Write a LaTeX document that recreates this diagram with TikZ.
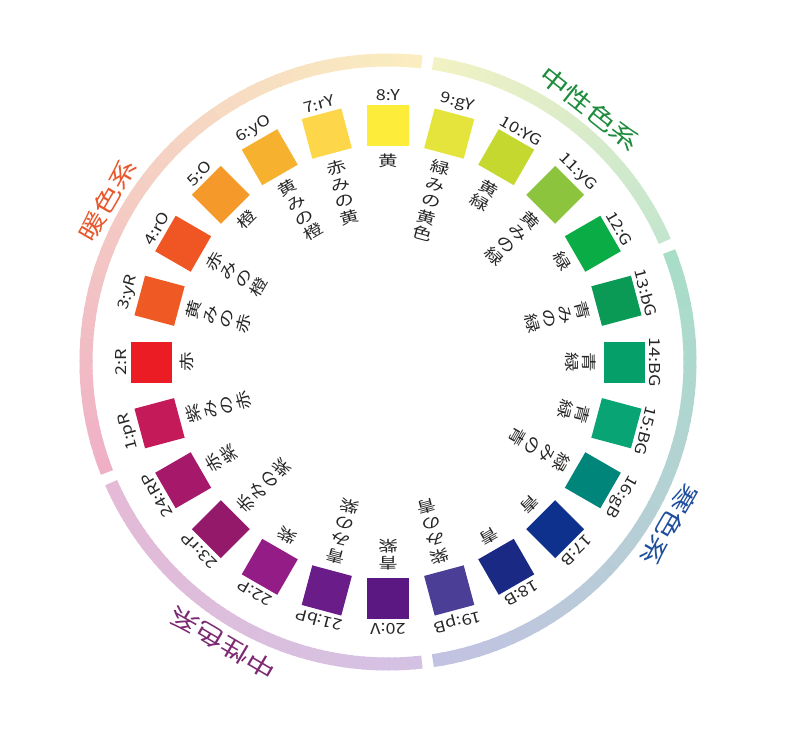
\documentclass[tikz,border=0pt]{standalone}
\usepackage{fontspec}
\setmainfont{Noto Sans CJK JP}
\newfontfamily\jpfont{Noto Sans CJK JP}[FakeStretch=1.3]
\newfontfamily\numfont{Noto Sans CJK JP}[FakeStretch=1.2]

\definecolor{h1}{HTML}{C41A5A}
\definecolor{h2}{HTML}{EC1C24}
\definecolor{h3}{HTML}{EF5A24}
\definecolor{h4}{HTML}{F05524}
\definecolor{h5}{HTML}{F59A2A}
\definecolor{h6}{HTML}{F6B12E}
\definecolor{h7}{HTML}{FDD64A}
\definecolor{h8}{HTML}{FEEC3A}
\definecolor{h9}{HTML}{E4E43C}
\definecolor{h10}{HTML}{C5D830}
\definecolor{h11}{HTML}{8DC43E}
\definecolor{h12}{HTML}{0AAD45}
\definecolor{h13}{HTML}{0A9A55}
\definecolor{h14}{HTML}{05A06A}
\definecolor{h15}{HTML}{08A474}
\definecolor{h16}{HTML}{00857A}
\definecolor{h17}{HTML}{0E318E}
\definecolor{h18}{HTML}{1A2984}
\definecolor{h19}{HTML}{4B3E96}
\definecolor{h20}{HTML}{5C1882}
\definecolor{h21}{HTML}{6A1C88}
\definecolor{h22}{HTML}{941C86}
\definecolor{h23}{HTML}{94196A}
\definecolor{h24}{HTML}{A6196A}

% ring ends
\definecolor{ringwarmA}{HTML}{FAEEC0}
\definecolor{ringwarmB}{HTML}{EFB0C6}
\definecolor{ringneuA}{HTML}{C4E6CE}
\definecolor{ringneuB}{HTML}{F2F2C4}
\definecolor{ringcoolA}{HTML}{C2C2E2}
\definecolor{ringcoolB}{HTML}{A8DEC8}
\definecolor{ringpurA}{HTML}{E4BAD6}
\definecolor{ringpurB}{HTML}{D4C2E4}

\definecolor{warmtxt}{HTML}{E8582C}
\definecolor{neutxt}{HTML}{1E8C3C}
\definecolor{cooltxt}{HTML}{1F4E9C}
\definecolor{purtxt}{HTML}{7C2A72}

\begin{document}
\begin{tikzpicture}[
        x=1pt, y=1pt,
        swatch/.style={minimum size=41pt, inner sep=0pt, outer sep=0pt},
        hue label/.style={font=\numfont\fontsize{15}{15}\selectfont, text=black!85, inner sep=0pt, anchor=south},
        tone name/.style={font=\jpfont\fontsize{15}{17}\selectfont, text=black!85, inner sep=0pt, anchor=north, align=center},
        ring/.style={line width=13pt},
        group/.style={font=\jpfont\fontsize{23}{23}\selectfont, inner sep=0pt}
      ]
      \useasboundingbox (-388,-374) rectangle (412,362);

      % outer ring, four graded arcs
      \foreach \s/\e/\ca/\cb in {-81.45/21.45/ringcoolA/ringcoolB,
                                 23.55/81.45/ringneuA/ringneuB,
                                 83.55/201.45/ringwarmA/ringwarmB,
                                 203.55/276.45/ringpurA/ringpurB}{
        \foreach \k in {0,...,59}{
          \pgfmathsetmacro\t{\s+(\e-\s-0.4)*\k/60}
          \pgfmathsetmacro\d{(\e-\s-0.4)/60+0.4}
          \pgfmathtruncatemacro\p{100*\k/59}
          \draw[ring, color=\cb!\p!\ca] (\t:302) arc[start angle=\t, delta angle=\d, radius=302];
        }
      }

      % hue swatches
      \foreach \n/\code/\name in {
          1/pR/{紫\\み\\の\\赤},
          2/R/{赤},
          3/yR/{黄\\み\\の\\赤},
          4/rO/{赤\\み\\の\\橙},
          5/O/{橙},
          6/yO/{黄\\み\\の\\橙},
          7/rY/{赤\\み\\の\\黄},
          8/Y/{黄},
          9/gY/{緑\\み\\の\\黄\\色},
          10/YG/{黄\\緑},
          11/yG/{黄\\み\\の\\緑},
          12/G/{緑},
          13/bG/{青\\み\\の\\緑},
          14/BG/{青\\緑},
          15/BG/{青\\緑},
          16/gB/{緑\\み\\の\\青},
          17/B/{青},
          18/B/{青},
          19/pB/{紫\\み\\の\\青},
          20/V/{青\\紫},
          21/bP/{青\\み\\の\\紫},
          22/P/{紫},
          23/rP/{赤\\み\\の\\紫},
          24/RP/{赤\\紫}}{
        \pgfmathsetmacro\a{90+(8-\n)*15}
        \node[swatch, fill=h\n, rotate=\a-90] (sq\n) at (\a:236.5) {};
        \node[hue label, rotate=\a-90] (num\n) at (\a:261) {\n:\code};
        \node[tone name, rotate=\a-90] (name\n) at (\a:208) {\name};
      }

      % group names
      \node[group, text=warmtxt, rotate=60] (warm) at (150:324) {暖色系};
      \node[group, text=neutxt, rotate=-38.5] (neutral) at (51.5:324) {中性色系};
      \node[group, text=cooltxt, rotate=-120] (cool) at (-30:325) {寒色系};
      \node[group, text=purtxt, rotate=149.5] (neutral2) at (239.5:326) {中性色系};
      \end{tikzpicture}
\end{document}
